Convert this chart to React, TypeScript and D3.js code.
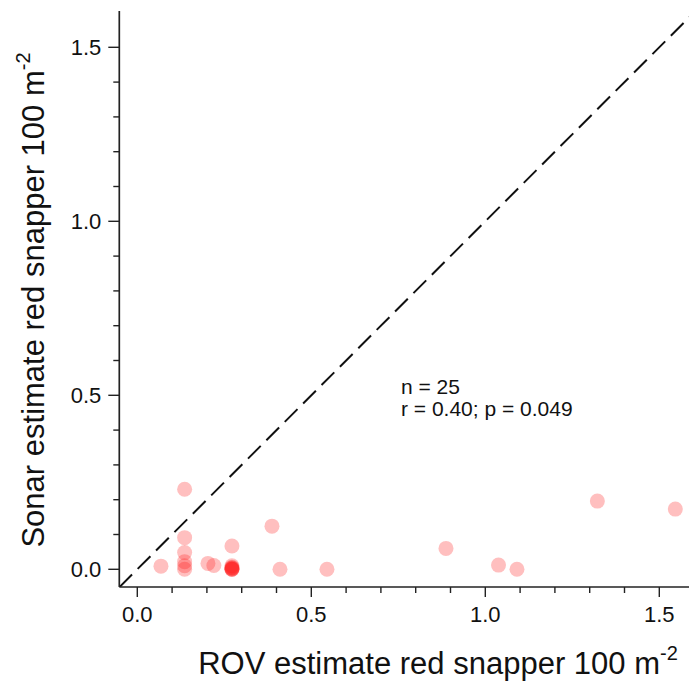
import React from "react";
import * as d3 from "d3";

const rovEstimate = [
  0.068, 0.136, 0.136, 0.136, 0.136, 0.136, 0.136, 0.203, 0.22,
  0.272, 0.272, 0.272, 0.272, 0.272, 0.272, 0.272, 0.272,
  0.387, 0.41, 0.545, 0.887, 1.038, 1.091, 1.322, 1.546,
];
const sonarEstimate = [
  0.009, 0.23, 0.091, 0.048, 0.022, 0.01, 0.0, 0.017, 0.011,
  0.067, 0.01, 0.006, 0.003, 0.0, 0.0, 0.0, 0.004,
  0.124, 0.0, 0.0, 0.06, 0.012, 0.0, 0.196, 0.173,
];
const axisTicks = [0, 0.5, 1.0, 1.5];
const minorTicks = d3.range(0, 16).map((i) => i / 10);
const statsLines = ["n = 25", "r = 0.40; p = 0.049"];
const xTitle = "ROV estimate red snapper 100 m";
const yTitle = "Sonar estimate red snapper 100 m";
const unitSup = "-2";

const W = 689;
const H = 690;
const FONT = "'Liberation Sans', Arial, sans-serif";

export default function App() {
  const x = d3.scaleLinear().domain([0, 1.5]).range([137.3, 659.3]);
  const y = d3.scaleLinear().domain([0, 1.5]).range([569.3, 47.3]);
  const x0 = x.invert(119.3);
  const y0 = y.invert(587);
  const xMax = x.invert(700);
  const yMax = y.invert(11);
  const left = x(x0);
  const bottom = y(y0);
  const fmt = d3.format(".1f");
  const diag = d3.line<number>().x((d) => x(d)).y((d) => y(d))([x0, 1.65]);

  return (
    <svg
      width={W}
      height={H}
      style={{ position: "absolute", left: 0, top: 0, background: "#fff" }}
      fontFamily={FONT}
    >
      <defs>
        <clipPath id="plotclip">
          <rect x={left} y={y(yMax)} width={W - left} height={bottom - y(yMax)} />
        </clipPath>
      </defs>
      {/* dashed 1:1 line */}
      <path
        d={diag || ""}
        stroke="#111"
        strokeWidth={2}
        strokeDasharray="18,8"
        fill="none"
        clipPath="url(#plotclip)"
      />
      {/* points */}
      <g>
        {rovEstimate.map((v, i) => (
          <circle
            key={i}
            cx={x(v)}
            cy={y(sonarEstimate[i])}
            r={7.5}
            fill="#ff1a1a"
            fillOpacity={0.28}
          />
        ))}
      </g>
      {/* axes */}
      <line x1={left} y1={bottom} x2={x(xMax)} y2={bottom} stroke="#222" strokeWidth={1.7} />
      <line x1={left} y1={bottom} x2={left} y2={y(yMax)} stroke="#222" strokeWidth={1.7} />
      {minorTicks.map((t) => {
        const major = axisTicks.some((m) => Math.abs(m - t) < 1e-6);
        return (
          <g key={"t" + t}>
            <line x1={x(t)} x2={x(t)} y1={bottom} y2={bottom + (major ? 10 : 6)} stroke="#222" strokeWidth={1.4} />
            <line x1={left} x2={left - (major ? 11 : 6)} y1={y(t)} y2={y(t)} stroke="#222" strokeWidth={1.4} />
          </g>
        );
      })}
      {axisTicks.map((t) => (
        <g key={"l" + t} fontSize={22} fill="#111">
          <text x={x(t)} y={bottom + 35} textAnchor="middle">{fmt(t)}</text>
          <text x={left - 18} y={y(t)} dy="0.35em" textAnchor="end">{fmt(t)}</text>
        </g>
      ))}
      {/* stats */}
      <text x={401} y={394} fontSize={21} fill="#111">{statsLines[0]}</text>
      <text x={401} y={416} fontSize={21} fill="#111">{statsLines[1]}</text>
      {/* titles */}
      <text x={438} y={674} fontSize={31} textAnchor="middle" fill="#111">
        {xTitle}
        <tspan fontSize={20} dy={-14}>{unitSup}</tspan>
      </text>
      <text
        transform={`translate(44, 300) rotate(-90)`}
        fontSize={31}
        textAnchor="middle"
        fill="#111"
      >
        {yTitle}
        <tspan fontSize={20} dy={-14}>{unitSup}</tspan>
      </text>
    </svg>
  );
}
